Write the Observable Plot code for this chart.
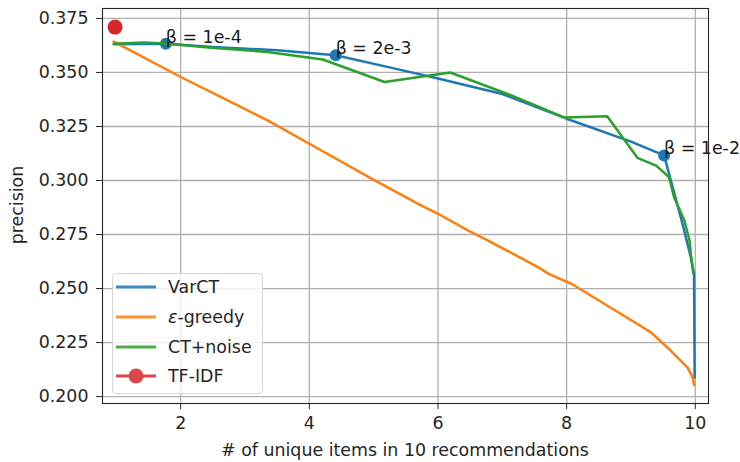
<!DOCTYPE html>
<html>
<head>
<meta charset="utf-8">
<script src="https://cdn.jsdelivr.net/npm/d3@7"></script>
<script src="https://cdn.jsdelivr.net/npm/@observablehq/plot@0.6"></script>
<style>
  html, body { margin: 0; padding: 0; background: white; }
  #wrap { position: relative; width: 740px; height: 462px; font-family: 'DejaVu Sans', sans-serif; color: #262626; }
  #chart { position: absolute; left: 0; top: 0; }
  .lbl { position: absolute; font-size: 17.4px; white-space: nowrap; }
  #legend { position: absolute; left: 112px; top: 273px; width: 151px; height: 121px;
    background: rgba(255,255,255,0.8); border: 1px solid #d6d6d6; border-radius: 4px; box-sizing: border-box; }
  .row { position: absolute; left: 0; height: 30px; display: flex; align-items: center; font-size: 17.4px; }
  .row svg { margin-left: 3px; margin-right: 12px; }
</style>
</head>
<body>
<div id="wrap">
  <div id="chart"></div>
  <div class="lbl" id="ylab" style="left:17px; top:205px; transform: translate(-50%,-50%) rotate(-90deg);">precision</div>
  <div class="lbl" id="xlab" style="left:405px; top:450px; transform: translate(-50%,-50%);"># of unique items in 10 recommendations</div>
  <div id="legend"></div>
</div>
<script>
// ---- data ----
const varctX = [0.96, 1.77, 2.5, 3.5, 4.41, 5.3, 6.0, 7.0, 8.0, 9.0, 9.515, 9.62, 9.80, 9.93, 9.98, 9.99];
const varctY = [0.3630, 0.3633, 0.3618, 0.3603, 0.3580, 0.3520, 0.3472, 0.3400, 0.3286, 0.3180, 0.3116, 0.3000, 0.2800, 0.2645, 0.2568, 0.2088];

const greedyX = [0.96, 2.0, 2.8, 3.35, 4.0, 4.96, 5.69, 6.0, 6.47, 6.78, 7.56, 7.72, 8.08, 9.1, 9.31, 9.62, 9.88, 9.96, 9.98];
const greedyY = [0.3643, 0.3479, 0.3360, 0.3278, 0.3170, 0.3010, 0.2892, 0.2846, 0.2768, 0.2722, 0.2598, 0.2568, 0.2521, 0.2336, 0.2297, 0.2212, 0.2134, 0.2088, 0.2054];

const noiseX = [0.96, 1.43, 1.77, 2.47, 3.35, 4.21, 5.17, 6.19, 7.14, 7.97, 8.63, 9.1, 9.39, 9.59, 9.67, 9.83, 9.91, 9.93, 9.97];
const noiseY = [0.3633, 0.3639, 0.3634, 0.3614, 0.3595, 0.3560, 0.3456, 0.3500, 0.3394, 0.3291, 0.3297, 0.3105, 0.3069, 0.3016, 0.2923, 0.2815, 0.2722, 0.2660, 0.2568];

const tfidfX = [0.98];
const tfidfY = [0.371];

const betaX = [1.77, 4.41, 9.515];
const betaY = [0.3633, 0.3580, 0.3116];
const betaLabels = ["β = 1e-4", "β = 2e-3", "β = 1e-2"];

const xTicks = [2, 4, 6, 8, 10];
const yTicks = [0.200, 0.225, 0.250, 0.275, 0.300, 0.325, 0.350, 0.375];

const seriesNames = ["VarCT", "ε-greedy", "CT+noise", "TF-IDF"];
const seriesColors = ["#1f77b4", "#ff7f0e", "#2ca02c", "#d62728"];

// ---- build tables ----
const zip = (xs, ys) => xs.map((x, i) => ({x, y: ys[i]}));
const varct = zip(varctX, varctY);
const greedy = zip(greedyX, greedyY);
const noise = zip(noiseX, noiseY);
const tfidf = zip(tfidfX, tfidfY);
const beta = betaX.map((x, i) => ({x, y: betaY[i], label: betaLabels[i]}));

const gridStyle = {stroke: "#b0b0b0", strokeOpacity: 1, strokeWidth: 1.3};

const chart = Plot.plot({
  width: 740, height: 462,
  marginLeft: 102, marginRight: 32, marginTop: 8, marginBottom: 59,
  x: {domain: [0.785, 10.205]},
  y: {domain: [0.1968, 0.3796]},
  style: {fontFamily: "'DejaVu Sans', sans-serif", fontSize: "17.4px", color: "#262626", background: "white"},
  marks: [
    Plot.gridX(xTicks, gridStyle),
    Plot.gridY(yTicks, gridStyle),
    Plot.line(varct, {x: "x", y: "y", stroke: seriesColors[0], strokeWidth: 2.5}),
    Plot.line(greedy, {x: "x", y: "y", stroke: seriesColors[1], strokeWidth: 2.5}),
    Plot.dot(beta, {x: "x", y: "y", r: 6, fill: seriesColors[0]}),
    Plot.line(noise, {x: "x", y: "y", stroke: seriesColors[2], strokeWidth: 2.5}),
    Plot.dot(tfidf, {x: "x", y: "y", r: 7.5, fill: seriesColors[3]}),
    Plot.text(beta, {x: "x", y: "y", text: "label", textAnchor: "start", lineAnchor: "bottom", fontSize: 17.4, fill: "#1a1a1a", dy: -1}),
    Plot.axisX(xTicks, {tickSize: 6, tickPadding: 7, label: null, fontSize: 17.4}),
    Plot.axisY(yTicks, {tickSize: 6, tickPadding: 8, tickFormat: d3.format(".3f"), label: null, fontSize: 17.4}),
    Plot.frame({stroke: "#262626", strokeWidth: 1.1})
  ]
});
document.getElementById("chart").appendChild(chart);

// ---- legend ----
const legend = document.getElementById("legend");
seriesNames.forEach((name, i) => {
  const row = document.createElement("div");
  row.className = "row";
  row.style.top = (i * 29.8 - 2) + "px";
  const marker = i === 3 ? `<circle cx="20" cy="10" r="7.5" fill="${seriesColors[i]}"/>` : "";
  const label = name === "ε-greedy" ? `<i>ε</i>-greedy` : name;
  row.innerHTML = `<svg width="40" height="20" style="opacity:0.85"><line x1="0" x2="40" y1="10" y2="10" stroke="${seriesColors[i]}" stroke-width="2.8"/>${marker}</svg><span>${label}</span>`;
  legend.appendChild(row);
});
</script>
</body>
</html>
